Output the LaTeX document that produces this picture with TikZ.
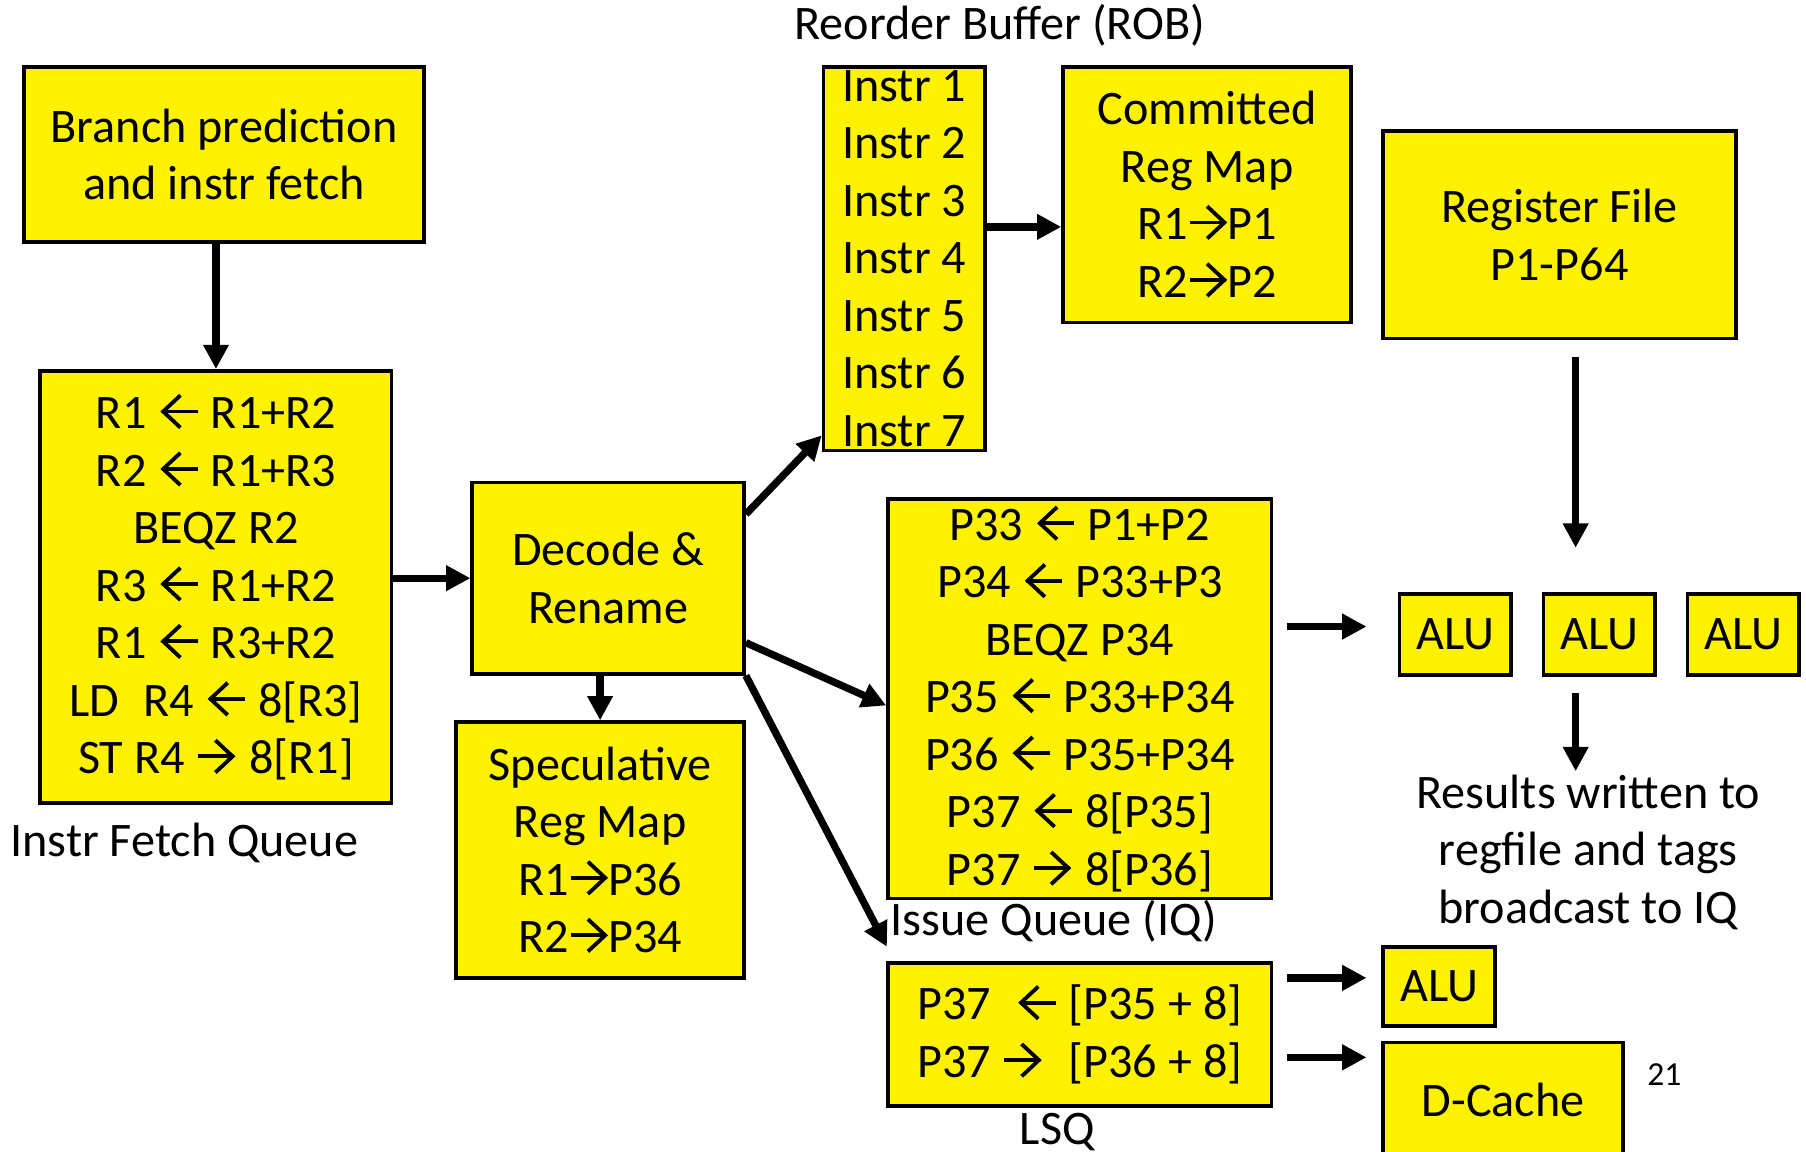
\documentclass[tikz,border=0pt]{standalone}
\usepackage{fontspec}
\setmainfont{Carlito}
\usetikzlibrary{arrows.meta,calc}
\newcommand\myla{\tikz[baseline=0pt, line width=0.95pt, line join=miter]{%
  \path (-0.02,0) (0.35,0.3);
  \draw (0.02,0.15) -- (0.33,0.15);
  \draw (0.18,0.29) -- (0.03,0.15) -- (0.18,0.01);}}
\newcommand\myra{\tikz[baseline=0pt, line width=0.95pt, line join=miter]{%
  \path (-0.02,0) (0.35,0.3);
  \draw (0,0.15) -- (0.31,0.15);
  \draw (0.15,0.29) -- (0.30,0.15) -- (0.15,0.01);}}
\newcommand\myrat{\tikz[baseline=0pt, line width=0.95pt, line join=miter]{%
  \path (-0.01,0) (0.32,0.3);
  \draw (0,0.15) -- (0.31,0.15);
  \draw (0.15,0.29) -- (0.30,0.15) -- (0.15,0.01);}}
\tikzset{
  box/.style={draw=black, line width=0.9pt, fill=yellow, inner sep=0pt, align=center,
              font=\fontsize{11.9}{14.2}\selectfont},
  txt/.style={inner sep=0pt, align=center, font=\fontsize{11.9}{14.2}\selectfont},
  arr/.style={line width=1.8pt, -{Triangle[length=6pt,width=6pt]}}
}
\begin{document}
\begin{tikzpicture}
\useasboundingbox (0,0) rectangle (15.68,-10.00);
\clip (0,0) rectangle (15.68,-10.00);
% boxes
\node[box, minimum width=3.47cm, minimum height=1.52cm] (bp) at (1.945,-1.34)
  {Branch prediction\\and instr fetch};
\node[box, minimum width=3.05cm, minimum height=3.75cm] (ifq) at (1.875,-5.095)
  {R1 \myla{} R1+R2\\R2 \myla{} R1+R3\\BEQZ R2\\R3 \myla{} R1+R2\\R1 \myla{} R3+R2\\LD\enspace R4 \myla{} 8[R3]\\ST R4 \myra{} 8[R1]};
\node[box, minimum width=2.36cm, minimum height=1.66cm] (dec) at (5.28,-5.02)
  {Decode \&\\Rename};
\node[box, minimum width=2.50cm, minimum height=2.22cm] (spec) at (5.21,-7.38)
  {Speculative\\Reg Map\\R1\myrat P36\\R2\myrat P34};
\node[box, minimum width=1.40cm, minimum height=3.33cm] (rob) at (7.85,-2.245)
  {Instr 1\\Instr 2\\Instr 3\\Instr 4\\Instr 5\\Instr 6\\Instr 7};
\node[box, minimum width=2.50cm, minimum height=2.22cm] (com) at (10.48,-1.69)
  {Committed\\Reg Map\\R1\myrat P1\\R2\myrat P2};
\node[box, minimum width=3.06cm, minimum height=1.80cm] (rf) at (13.54,-2.04)
  {Register File\\P1-P64};
\node[box, minimum width=3.33cm, minimum height=3.47cm] (iq) at (9.375,-6.065)
  {P33 \myla{} P1+P2\\P34 \myla{} P33+P3\\BEQZ P34\\P35 \myla{} P33+P34\\P36 \myla{} P35+P34\\P37 \myla{} 8[P35]\\P37 \myra{} 8[P36]};
\node[box, minimum width=0.97cm, minimum height=0.70cm] (alu1) at (12.635,-5.51) {ALU};
\node[box, minimum width=0.97cm, minimum height=0.70cm] (alu2) at (13.885,-5.51) {ALU};
\node[box, minimum width=0.97cm, minimum height=0.70cm] (alu3) at (15.135,-5.51) {ALU};
\node[box, minimum width=3.33cm, minimum height=1.24cm] (lsq) at (9.375,-8.98)
  {P37\enspace \myla{} [P35 + 8]\\P37 \myra{}\enspace [P36 + 8]};
\node[box, minimum width=0.97cm, minimum height=0.69cm] (alu4) at (12.495,-8.565) {ALU};
\node[box, minimum width=2.08cm, minimum height=1.00cm] (dc) at (13.05,-9.55) {D-Cache};
% labels
\node[txt] (ifql) at (1.60,-7.32) {Instr Fetch Queue};
\node[txt] (robl) at (8.68,-0.22) {Reorder Buffer (ROB)};
\node[txt] (iql) at (9.15,-8.00) {Issue Queue (IQ)};
\node[txt] (lsql) at (9.18,-9.83) {LSQ};
\node[txt, align=center] (res) at (13.79,-7.40) {Results written to\\regfile and tags\\broadcast to IQ};
\node[inner sep=0pt, font=\fontsize{8.3}{10}\selectfont] (pg) at (14.45,-9.33) {21};
\coordinate (iqin) at (7.70,-8.22);
% connectors
\draw[arr] (ifq.north |- bp.south) -- (ifq.north);
\draw[arr] (ifq.east |- dec.west) -- (dec.west);
\draw[arr] (spec.north |- dec.south) -- (spec.north);
\draw[arr] ($(dec.north east)+(0,-0.29)$) -- (rob.245.8);
\path ([yshift=2.75mm]rob.east) coordinate (r1);
\draw[arr] (r1) -- (r1 -| com.west);
\draw[arr] ($(dec.east)+(0,-0.56)$) -- ($(iq.west)+(0,-0.06)$);
\draw[arr] (dec.south east) -- (iqin);
\draw[arr] ($(rf.south)+(0.14,-0.14)$) -- ($(rf.south)+(0.14,-1.80)$);
\draw[arr] ($(alu1.west)+(-0.96,0.07)$) -- ($(alu1.west)+(-0.27,0.07)$);
\draw[arr] ($(alu2.south)+(-0.205,-0.14)$) -- ($(alu2.south)+(-0.205,-0.82)$);
\draw[arr] ($(alu4.west)+(-0.82,0.075)$) -- ($(alu4.west)+(-0.13,0.075)$);
\draw[arr] ($(alu4.west)+(-0.82,-0.615)$) -- ($(alu4.west)+(-0.13,-0.615)$);
\end{tikzpicture}
\end{document}
